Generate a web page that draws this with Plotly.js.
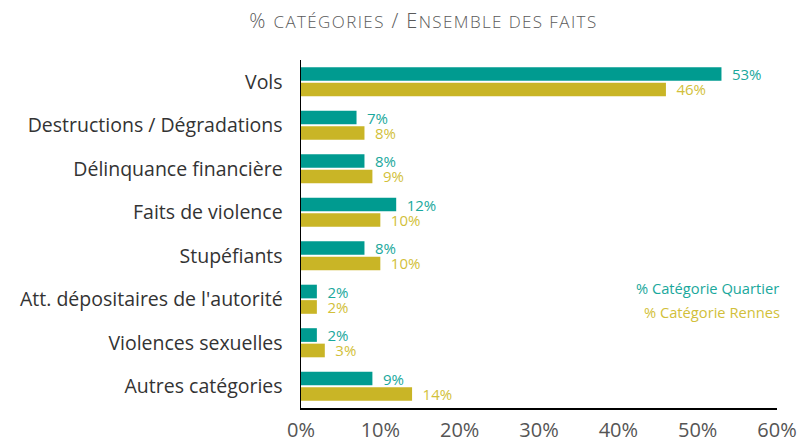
<!DOCTYPE html>
<html><head><meta charset="utf-8">
<script src="https://cdn.plot.ly/plotly-3.0.1.min.js"></script>
<style>html,body{margin:0;padding:0;background:#fff}</style>
</head><body><div id="chart" style="width:802px;height:444px"></div>
<script>
const categories = ["Vols","Destructions / Dégradations","Délinquance financière","Faits de violence","Stupéfiants","Att. dépositaires de l'autorité","Violences sexuelles","Autres catégories"];
const quartier = [53,7,8,12,8,2,2,9];
const rennes = [46,8,9,10,10,2,3,14];
const seriesNames = ["% Catégorie Quartier","% Catégorie Rennes"];
const xTicks = [0,10,20,30,40,50,60];
const xTickLabels = ["0%","10%","20%","30%","40%","50%","60%"];
const titleText = "<span style='letter-spacing:1.4px'>% <span style='font-size:17px'>CATÉGORIES</span> / E<span style='font-size:17px'>NSEMBLE DES FAITS</span></span>";

const teal = "#009b90", gold = "#c9b526";
const tealText = "#1aa89c", goldText = "#d2bf3a";
const fam = "'Open Sans', 'Noto Sans', sans-serif";

const traces = [
  {type:"bar", orientation:"h", name:seriesNames[0], y:categories, x:quartier,
   marker:{color:teal}, text:quartier.map(v=>"\u2002"+v+"%"), textposition:"outside", constraintext:"none",
   textfont:{color:tealText,size:15,family:fam}, cliponaxis:false, hoverinfo:"none"},
  {type:"bar", orientation:"h", name:seriesNames[1], y:categories, x:rennes,
   marker:{color:gold}, text:rennes.map(v=>"\u2002"+v+"%"), textposition:"outside", constraintext:"none",
   textfont:{color:goldText,size:15,family:fam}, cliponaxis:false, hoverinfo:"none"}
];

const layout = {
  width:802, height:444,
  margin:{l:301,r:25,t:60,b:36},
  paper_bgcolor:"#fff", plot_bgcolor:"#fff",
  showlegend:false,
  barmode:"group", bargap:0.29, bargroupgap:0.115,
  font:{family:fam,color:"#444"},
  title:{text:titleText, x:0.528, xanchor:"center", y:0.952, yanchor:"middle",
         font:{family:fam,size:20,color:"#5a5a5a",weight:300}},
  xaxis:{range:[0,60], tickvals:xTicks, ticktext:xTickLabels, showgrid:false, zeroline:false,
         showline:true, linecolor:"#000", linewidth:1.5, ticks:"", ticklabelstandoff:3,
         tickfont:{size:20,color:"#555",family:fam}, fixedrange:true},
  yaxis:{autorange:"reversed", showgrid:false, zeroline:false, showline:true, linecolor:"#000", linewidth:1.5,
         ticks:"", ticklabelstandoff:13, tickfont:{size:19.5,color:"#333",family:fam}, fixedrange:true},
  annotations:[
    {xref:"paper",yref:"paper",x:1.008,y:0.346,xanchor:"right",yanchor:"middle",showarrow:false,
     text:seriesNames[0],font:{family:fam,size:14.7,color:tealText}},
    {xref:"paper",yref:"paper",x:1.01,y:0.277,xanchor:"right",yanchor:"middle",showarrow:false,
     text:seriesNames[1],font:{family:fam,size:14.7,color:goldText}}
  ]
};
Plotly.newPlot("chart", traces, layout, {displayModeBar:false, staticPlot:true});
</script></body></html>
